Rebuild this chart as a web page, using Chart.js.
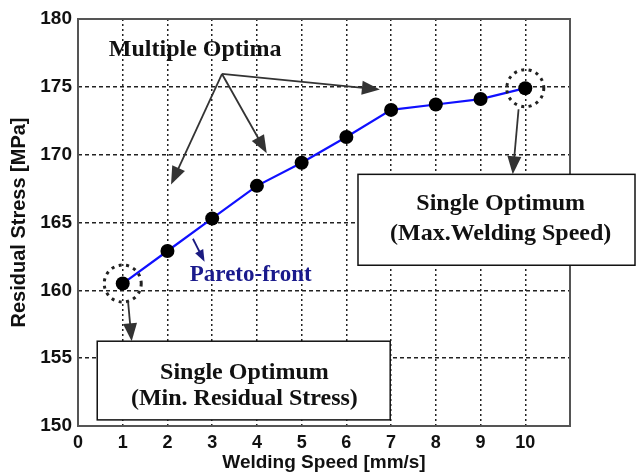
<!DOCTYPE html>
<html>
<head>
<meta charset="utf-8">
<script src="https://cdn.jsdelivr.net/npm/chart.js@4/dist/chart.umd.min.js"></script>
<style>
html,body{margin:0;padding:0;background:#fff;}
#wrap{width:636px;height:474px;position:relative;}
</style>
</head>
<body>
<div id="wrap"><canvas id="c" width="636" height="474"></canvas></div>
<script>
const weldingSpeed = [1, 2, 3, 4, 5, 6, 7, 8, 9, 10];
const residualStress = [160.5, 162.9, 165.3, 167.7, 169.4, 171.3, 173.3, 173.7, 174.1, 174.9];
const xTicks = [0, 1, 2, 3, 4, 5, 6, 7, 8, 9, 10];
const yTicks = [150, 155, 160, 165, 170, 175, 180];

const serif = '"Liberation Serif", "Times New Roman", serif';
const sans = '"Liberation Sans", Arial, sans-serif';

function arrow(ctx, x1, y1, x2, y2, color, lw, hl, hw) {
  const a = Math.atan2(y2 - y1, x2 - x1);
  ctx.save();
  ctx.strokeStyle = color; ctx.fillStyle = color; ctx.lineWidth = lw;
  ctx.beginPath();
  ctx.moveTo(x1, y1);
  ctx.lineTo(x2 - Math.cos(a) * hl * 0.8, y2 - Math.sin(a) * hl * 0.8);
  ctx.stroke();
  ctx.beginPath();
  ctx.moveTo(x2, y2);
  ctx.lineTo(x2 - Math.cos(a) * hl + Math.sin(a) * hw / 2, y2 - Math.sin(a) * hl - Math.cos(a) * hw / 2);
  ctx.lineTo(x2 - Math.cos(a) * hl - Math.sin(a) * hw / 2, y2 - Math.sin(a) * hl + Math.cos(a) * hw / 2);
  ctx.closePath();
  ctx.fill();
  ctx.restore();
}

const annot = {
  id: 'annot',
  afterDraw(chart) {
    const ctx = chart.ctx;
    const xs = chart.scales.x, ys = chart.scales.y;
    const X = v => xs.getPixelForValue(v), Y = v => ys.getPixelForValue(v);
    const ca = chart.chartArea;

    // frame
    ctx.save();
    ctx.strokeStyle = '#555'; ctx.lineWidth = 2;
    ctx.strokeRect(ca.left, ca.top, ca.right - ca.left, ca.bottom - ca.top);
    ctx.restore();

    // dotted circles around extreme points
    const ends = [0, weldingSpeed.length - 1];
    ctx.save();
    ctx.strokeStyle = '#222'; ctx.lineWidth = 3; ctx.setLineDash([3, 4.5]);
    ends.forEach(i => {
      ctx.beginPath();
      ctx.arc(X(weldingSpeed[i]), Y(residualStress[i]), 18.5, 0, Math.PI * 2);
      ctx.stroke();
    });
    ctx.restore();

    // boxes
    function box(x0, y0, x1, y1, lines, cx, ly) {
      const px0 = X(x0), px1 = Math.min(X(x1), chart.width - 1), py0 = Y(y0), py1 = Y(y1);
      ctx.save();
      ctx.fillStyle = '#fff';
      ctx.fillRect(px0, py0, px1 - px0, py1 - py0);
      ctx.strokeStyle = '#111'; ctx.lineWidth = 1.5;
      ctx.strokeRect(px0, py0, px1 - px0, py1 - py0);
      ctx.fillStyle = '#111';
      ctx.font = 'bold 24px ' + serif;
      ctx.textAlign = 'center'; ctx.textBaseline = 'middle';
      lines.forEach((t, k) => ctx.fillText(t, X(cx), Y(ly[k])));
      ctx.restore();
    }
    box(0.43, 156.25, 6.98, 150.45, ['Single Optimum', '(Min. Residual Stress)'], 3.72, [153.95, 152.0]);
    box(6.26, 168.55, 12.5, 161.85, ['Single Optimum', '(Max.Welding Speed)'], 9.45, [166.4, 164.15]);

    // Multiple Optima
    ctx.save();
    ctx.fillStyle = '#111';
    ctx.font = 'bold 24px ' + serif;
    ctx.textAlign = 'center'; ctx.textBaseline = 'middle';
    ctx.fillText('Multiple Optima', X(2.62), Y(177.7));
    ctx.restore();

    const ox = X(3.22), oy = Y(175.95);
    arrow(ctx, ox, oy, X(2.08), Y(167.8), '#333', 1.8, 18, 14);
    arrow(ctx, ox, oy, X(4.22), Y(170.1), '#333', 1.8, 18, 14);
    arrow(ctx, ox, oy, X(6.75), Y(174.8), '#333', 1.8, 18, 14);
    // single optimum arrows
    arrow(ctx, X(1.12), Y(159.15), X(1.2), Y(156.25), '#333', 1.8, 18, 14);
    arrow(ctx, X(9.85), Y(173.35), X(9.72), Y(168.55), '#333', 1.8, 18, 14);

    // Pareto-front
    arrow(ctx, X(2.57), Y(163.8), X(2.83), Y(162.1), '#1a1a80', 1.8, 12, 9);
    ctx.save();
    ctx.fillStyle = '#1a1a8c';
    ctx.font = 'bold 23px ' + serif;
    ctx.textAlign = 'left'; ctx.textBaseline = 'middle';
    ctx.fillText('Pareto-front', X(2.5), Y(161.15));
    ctx.restore();
  }
};

new Chart(document.getElementById('c'), {
  type: 'line',
  data: {
    datasets: [{
      data: weldingSpeed.map((x, i) => ({ x: x, y: residualStress[i] })),
      borderColor: '#1010ff',
      borderWidth: 2.2,
      pointRadius: 7,
      pointBackgroundColor: '#000',
      pointBorderColor: '#000',
      pointBorderWidth: 0,
      tension: 0,
      fill: false
    }]
  },
  plugins: [annot],
  options: {
    responsive: false,
    animation: false,
    devicePixelRatio: 1,
    layout: { padding: { left: 0, right: 66, top: 19, bottom: 0 } },
    plugins: { legend: { display: false }, tooltip: { enabled: false } },
    scales: {
      x: {
        type: 'linear', min: 0, max: 11,
        afterBuildTicks: s => { s.ticks = xTicks.concat([11]).map(v => ({ value: v })); },
        afterFit: s => { s.height = 48; },
        ticks: {
          callback: v => (xTicks.includes(v) ? String(v) : ''),
          color: '#111', padding: 6,
          font: { family: sans, size: 18, weight: 'bold' }, maxRotation: 0, autoSkip: false
        },
        grid: { color: '#222', lineWidth: 1.5, drawTicks: false },
        border: { display: false, dash: [2, 3] },
        title: { display: true, text: 'Welding Speed [mm/s]', color: '#111', padding: { top: 2, bottom: 0 },
          font: { family: sans, size: 19, weight: 'bold' } }
      },
      y: {
        min: 150, max: 180,
        afterBuildTicks: s => { s.ticks = yTicks.map(v => ({ value: v })); },
        afterFit: s => { s.width = 78; },
        ticks: { color: '#111', padding: 6, font: { family: sans, size: 19, weight: 'bold' } },
        grid: { color: '#222', lineWidth: 1.5, drawTicks: false },
        border: { display: false, dash: [4, 3] },
        title: { display: true, text: 'Residual Stress [MPa]', color: '#111', padding: { top: 7, bottom: 0 },
          font: { family: sans, size: 20, weight: 'bold' } }
      }
    }
  }
});
</script>
</body>
</html>
